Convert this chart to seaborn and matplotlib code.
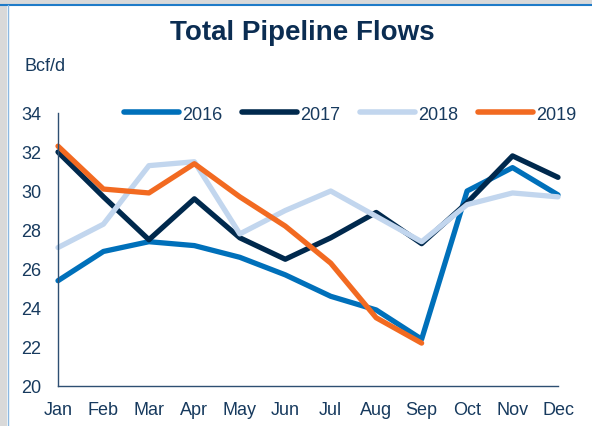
import pandas as pd
import numpy as np
import matplotlib.pyplot as plt
import seaborn as sns
from matplotlib.patches import Rectangle
from matplotlib.lines import Line2D

# ===================== datos =====================
months = ["Jan", "Feb", "Mar", "Apr", "May", "Jun", "Jul", "Aug", "Sep", "Oct", "Nov", "Dec"]
flows_2016 = [25.4, 26.9, 27.4, 27.2, 26.6, 25.7, 24.6, 23.9, 22.4, 30.0, 31.2, 29.8]
flows_2017 = [32.0, 29.7, 27.5, 29.6, 27.6, 26.5, 27.6, 28.9, 27.3, 29.4, 31.8, 30.7]
flows_2018 = [27.1, 28.3, 31.3, 31.5, 27.8, 29.0, 30.0, 28.7, 27.4, 29.3, 29.9, 29.7]
flows_2019 = [32.3, 30.1, 29.9, 31.4, 29.7, 28.2, 26.3, 23.5, 22.2]
years = ["2016", "2017", "2018", "2019"]
colors = ["#0070BA", "#00294D", "#C2D6EE", "#F26A21"]

rows = []
for yr, vals in zip(years, [flows_2016, flows_2017, flows_2018, flows_2019]):
    for i, v in enumerate(vals):
        rows.append({"month": i, "flow": v, "year": yr})
df = pd.DataFrame(rows)

# ===================== figura =====================
sns.set_style("white")
plt.rcParams["font.family"] = ["Liberation Sans", "DejaVu Sans"]
text_color = "#173A5E"

fig = plt.figure(figsize=(5.92, 4.27), dpi=100)
W, H = 592, 427

# marco gris con borde azul
fig.patches.append(Rectangle((0, 0), 7 / W, 1, transform=fig.transFigure,
                             facecolor="#D9D9D9", edgecolor="none", zorder=-10))
fig.patches.append(Rectangle((0, 1 - 5 / H), 1, 5 / H, transform=fig.transFigure,
                             facecolor="#D9D9D9", edgecolor="none", zorder=-10))
fig.lines.append(Line2D([0, 1], [1 - 6 / H, 1 - 6 / H], transform=fig.transFigure,
                        color="#1F7BC8", lw=1.5))
fig.lines.append(Line2D([7.5 / W, 7.5 / W], [0, 1 - 6 / H], transform=fig.transFigure,
                        color="#8DB8E0", lw=1))

ax = fig.add_axes([58 / W, 1 - 387 / H, 500 / W, 273 / H])
sns.lineplot(data=df, x="month", y="flow", hue="year", palette=colors,
             linewidth=3.8, ax=ax, legend=False, clip_on=False)

ax.set_xlim(0, 11)
ax.set_ylim(20, 34)
ax.set_xticks(range(12))
ax.set_xticklabels(months)
ax.set_yticks(np.arange(20, 35, 2))
ax.set_xlabel("")
ax.set_ylabel("")
for s in ["top", "right"]:
    ax.spines[s].set_visible(False)
for s in ["left", "bottom"]:
    ax.spines[s].set_color("#2E4F72")
    ax.spines[s].set_linewidth(1)
ax.tick_params(axis="both", colors="#2E4F72", labelcolor=text_color,
               labelsize=13, length=5, width=1, direction="out")
ax.tick_params(axis="y", pad=7)
ax.tick_params(axis="x", pad=6)
ax.set_facecolor("none")

# leyenda
handles = [Line2D([0], [0], color=c, lw=4, solid_capstyle="round") for c in colors]
fig.legend(handles, years, loc="center", bbox_to_anchor=(350 / W, 1 - 115 / H),
           ncol=4, frameon=False, fontsize=13, handlelength=3.05, handletextpad=0.17,
           columnspacing=1.1, labelcolor=text_color)

fig.text(302 / W, 1 - 33 / H, "Total Pipeline Flows", ha="center", va="center",
         fontsize=20, fontweight="bold", color="#0B2D52")
fig.text(25 / W, 1 - 67 / H, "Bcf/d", ha="left", va="center", fontsize=13, color=text_color)

fig.savefig("out.png", dpi=100)
